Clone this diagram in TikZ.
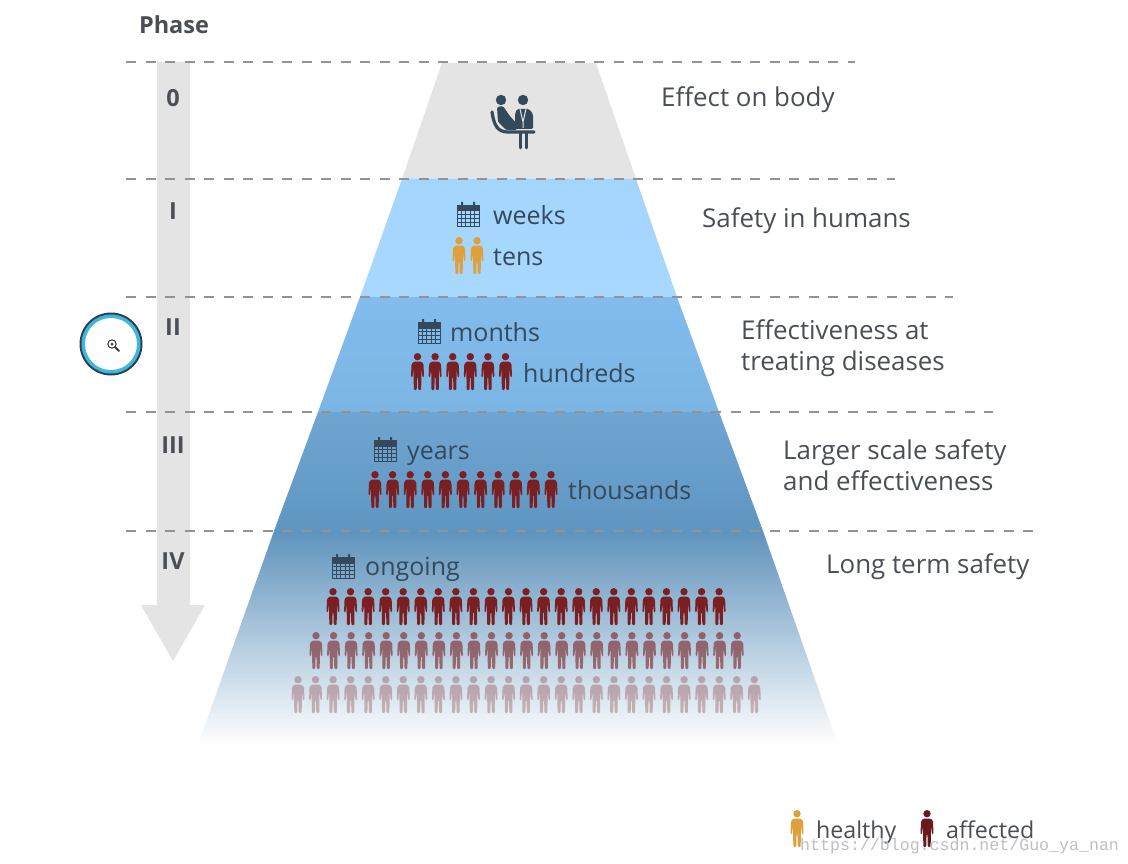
\documentclass[tikz,border=0pt]{standalone}
\usepackage{fontspec}
\setmainfont{Open Sans}
\newfontfamily\wmfont{Liberation Mono}
\usetikzlibrary{positioning}
\definecolor{inkblue}{HTML}{34495C}
\definecolor{graytxt}{HTML}{4A4F55}
\definecolor{bandgray}{HTML}{E4E4E4}
\definecolor{sick}{HTML}{7A1F22}
\definecolor{well}{HTML}{DDA03A}
\definecolor{ringdark}{HTML}{2B4050}
\definecolor{ringcyan}{HTML}{3DB7DC}
\tikzset{
person/.pic={
\fill[pic actions] (0,3.7) circle (3.7);
\fill[pic actions,rounded corners=1] (-3.5,8.5)--(3.5,8.5)--(6,11)--(6.5,24)--(5,24.4)--(3.9,15)--(3.7,37)--(0.8,37)--(0.4,24)--(-0.4,24)--(-0.8,37)--(-3.7,37)--(-3.9,15)--(-5,24.4)--(-6.5,24)--(-6,11)--cycle;
},
calendar/.pic={
\fill[inkblue] (-11.5,-9)rectangle(11.5,-3);
\fill[inkblue] (-7,-12)rectangle(-5,-8) (5,-12)rectangle(7,-8);
\draw[inkblue,line width=1] (-11,-3)rectangle(11,12);
\foreach \gx in {-6.6,-2.2,2.2,6.6} \draw[inkblue,line width=.9] (\gx,-3)--(\gx,12);
\foreach \gy in {0.8,4.6,8.4} \draw[inkblue,line width=.9] (-11,\gy)--(11,\gy);
}
}
\begin{document}
\begin{tikzpicture}[x=1pt,y=-1pt,
dashline/.style={draw=gray!85,line width=1.3,dash pattern=on 10pt off 9.5pt},
txt/.style={anchor=base west,inner sep=0,text=inkblue,font=\fontsize{25}{31}\selectfont},
legendtxt/.style={anchor=base west,inner sep=0,text=graytxt,font=\fontsize{23.2}{31}\selectfont},
side/.style={anchor=west,align=left,inner sep=0,text=graytxt,font=\fontsize{25.9}{31}\selectfont},
phase/.style={inner sep=0,text=graytxt,font=\fontsize{23.5}{28}\selectfont\bfseries},
sickrow/.style={fill=sick},
wellrow/.style={fill=well}]
\useasboundingbox (0,0) rectangle (1128,864);
\fill[white] (0,0) rectangle (1128,864);

\fill[bandgray] (157,62)--(190,62)--(190,605)--(205,605)--(173,661)--(141,605)--(157,605)--cycle;

\fill[bandgray] (442,63)--(596,63)--(636,179)--(402,179)--cycle;
\shade[top color={rgb,255:red,164;green,213;blue,252},bottom color={rgb,255:red,168;green,216;blue,254}] (402,179)--(636,179)--(677,297)--(360,297)--cycle;
\shade[top color={rgb,255:red,130;green,188;blue,236},bottom color={rgb,255:red,122;green,181;blue,228}] (360,297)--(677,297)--(719,412)--(318,412)--cycle;
\shade[top color={rgb,255:red,112;green,165;blue,209},bottom color={rgb,255:red,95;green,150;blue,193}] (318,412)--(719,412)--(763,531)--(274,531)--cycle;
\shade[top color={rgb,255:red,95;green,147;blue,188},bottom color=white] (274,531)--(763,531)--(838,745)--(198,745)--cycle;

\foreach \ly/\lx in {62/855,179/895,297/953,412/993,531/1033}
\draw[dashline] (126,\ly)--(\lx,\ly);

\node[phase] (phasehead) at (174,25) {Phase};
\node[phase] (p0) at (173,98) {0};
\node[phase] (p1) at (173,211) {I};
\node[phase] (p2) at (173,327) {II};
\node[phase] (p3) at (173,445) {III};
\node[phase] (p4) at (173,561) {IV};

\node[side] (effect) at (661,100) {Effect on body};
\node[side] (safety) at (702,221) {Safety in humans};
\node[side] (treat) at (741,348) {Effectiveness at\\treating diseases};
\node[side] (larger) at (783,465) {Larger scale safety\\and effectiveness};
\node[side] (longterm) at (826,567) {Long term safety};

\fill[inkblue] (501,100) circle (5.2) (523,100) circle (5.2);
\fill[inkblue,rounded corners=1.5] (497,107)--(503,106)--(509,115)--(517,124)--(517,130)--(506,130)--(498,122)--cycle;
\fill[inkblue,rounded corners=1.5] (517,109)--(529,109)--(533,114)--(533,129)--(515,129)--(515,114)--cycle;
\draw[bandgray,line width=1] (520,109)--(523,122)--(526,109) (523,122)--(523,128);
\draw[inkblue,line width=3.2,line cap=round] (492,112) .. controls (494,126) and (498,132) .. (508,132)--(534,132);
\draw[inkblue,line width=2.6,line cap=round] (520.5,133)--(520.5,148) (526.5,133)--(526.5,148);

\pic at (468,214) {calendar};
\pic at (429,331) {calendar};
\pic at (385,449) {calendar};
\pic at (343,566) {calendar};

\node[txt] (weeks) at (493,224) {weeks};
\node[txt] (tens) at (493,265) {tens};
\node[txt] (months) at (450,341) {months};
\node[txt] (hundreds) at (523,382) {hundreds};
\node[txt] (years) at (407,459) {years};
\node[txt] (thousands) at (568,499) {thousands};
\node[txt] (ongoing) at (365,575) {ongoing};

\foreach \i in {459,477} \pic[wellrow] at (\i,237) {person};
\foreach \i in {0,...,5} \pic[sickrow] at (417.5+17.6*\i,353) {person};
\foreach \i in {0,...,10} \pic[sickrow] at (375+17.6*\i,471) {person};
\foreach \i in {0,...,22} \pic[sickrow] at (333+17.55*\i,588) {person};
\foreach \i in {0,...,24} \pic[sickrow,fill opacity=.6] at (316+17.55*\i,632) {person};
\foreach \i in {0,...,26} \pic[sickrow,fill opacity=.3] at (298+17.55*\i,676) {person};

\fill[ringdark] (111,344) circle (31.5);
\fill[ringcyan] (111,344) circle (29.5);
\fill[white] (111,344) circle (26);
\draw[black!80,line width=1] (112,344) circle (4.2);
\fill[black!80] (112,344) circle (1.5);
\draw[black!80,line width=1.8,line cap=round] (115,347)--(119,351);

\pic[wellrow] at (797,810) {person};
\node[legendtxt] (healthy) at (816,838) {healthy};
\pic[fill=sick!85!black] at (927,810) {person};
\node[legendtxt] (affected) at (946,838) {affected};
\node[inner sep=0,anchor=base west,text=black!25,font=\wmfont\fontsize{16.6}{20}\selectfont] (watermark) at (800,850) {https://blog.csdn.net/Guo\_ya\_nan};
\end{tikzpicture}
\end{document}
